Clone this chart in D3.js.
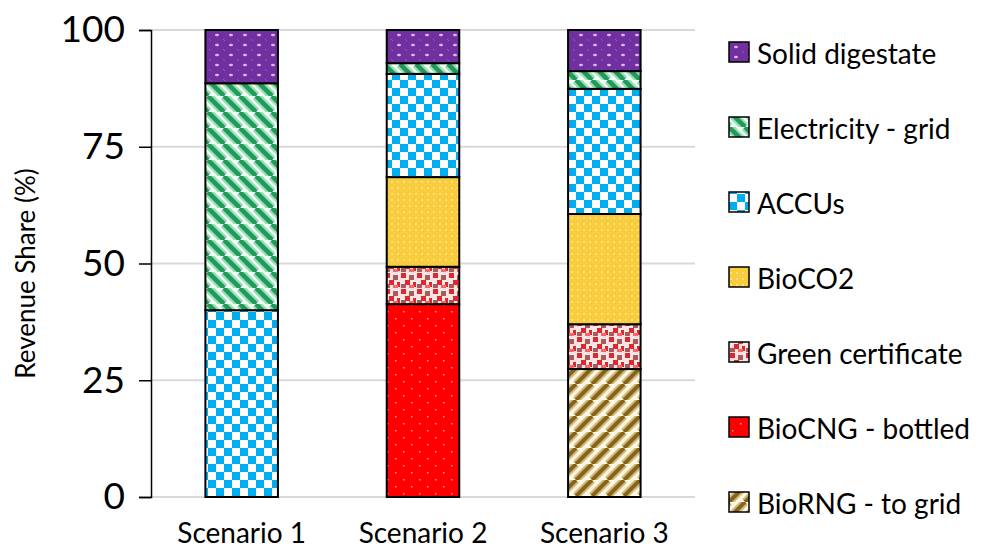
<!DOCTYPE html>
<html>
<head>
<meta charset="utf-8">
<script src="https://cdn.jsdelivr.net/npm/d3@7"></script>
<style>
  html, body { margin: 0; padding: 0; background: #fff; }
  svg { display: block; font-family: Lato, "Open Sans", sans-serif; }
</style>
</head>
<body>
<svg id="chart" width="982" height="551"></svg>
<script>
// Scenarios along the x axis
const scenarios = ["Scenario 1", "Scenario 2", "Scenario 3"];

// Revenue streams, stacked bottom to top (values in % of revenue per scenario)
const bioRNG      = [0, 0, 27.4];
const bioCNG      = [0, 41.3, 0];
const greenCert   = [0, 8.0, 9.6];
const bioCO2      = [0, 19.2, 23.6];
const accus       = [40.0, 22.1, 26.8];
const electricity = [48.6, 2.3, 3.8];
const digestate   = [11.4, 7.1, 8.8];

const seriesNames = ["BioRNG - to grid", "BioCNG - bottled", "Green certificate",
                     "BioCO2", "ACCUs", "Electricity - grid", "Solid digestate"];
const seriesValues = [bioRNG, bioCNG, greenCert, bioCO2, accus, electricity, digestate];

const yTicks = [0, 25, 50, 75, 100];

const svg = d3.select("#chart");
const defs = svg.append("defs");

// ---- fill patterns -------------------------------------------------------
function pat(id, w, h) {
  return defs.append("pattern").attr("id", id).attr("patternUnits", "userSpaceOnUse")
    .attr("width", w).attr("height", h);
}
// Solid digestate: purple with light dots
{
  const p = pat("p-dig", 14, 10);
  p.append("rect").attr("width", 14).attr("height", 10).attr("fill", "#7030A0");
  p.append("ellipse").attr("cx", 7).attr("cy", 5).attr("rx", 2).attr("ry", 1.3).attr("fill", "#dcb6f0");
  p.append("ellipse").attr("cx", 0).attr("cy", 0).attr("rx", 1.2).attr("ry", 1).attr("fill", "#9a62c4");
  p.append("ellipse").attr("cx", 14).attr("cy", 10).attr("rx", 1.2).attr("ry", 1).attr("fill", "#9a62c4");
}
// Electricity: green downward diagonal stripes
{
  const p = pat("p-ele", 16, 16);
  p.append("rect").attr("width", 16).attr("height", 16).attr("fill", "#effff5");
  [-16, 0, 16].forEach(dx => {
    p.append("line").attr("x1", dx).attr("y1", 0).attr("x2", dx + 16).attr("y2", 16)
      .attr("stroke", "#9bdcb6").attr("stroke-width", 9);
    p.append("line").attr("x1", dx).attr("y1", 0).attr("x2", dx + 16).attr("y2", 16)
      .attr("stroke", "#1f9a58").attr("stroke-width", 4.5);
  });
}
// ACCUs: blue checkerboard
{
  const p = pat("p-acc", 16, 16);
  p.append("rect").attr("width", 16).attr("height", 16).attr("fill", "#ffffff");
  p.append("rect").attr("width", 8).attr("height", 8).attr("fill", "#00AEEF");
  p.append("rect").attr("x", 8).attr("y", 8).attr("width", 8).attr("height", 8).attr("fill", "#00AEEF");
}
// BioCO2: yellow fine grid texture
{
  const p = pat("p-co2", 6, 6);
  p.append("rect").attr("width", 6).attr("height", 6).attr("fill", "#F8CC3C");
  p.append("rect").attr("x", 1).attr("y", 1).attr("width", 2).attr("height", 2).attr("fill", "#FCE07A");
  p.append("rect").attr("x", 4).attr("y", 4).attr("width", 1).attr("height", 1).attr("fill", "#FBD85C");
}
// Green certificate: red confetti on pink
{
  const p = pat("p-grn", 16, 16);
  p.append("rect").attr("width", 16).attr("height", 16).attr("fill", "#fde4e4");
  [[1, 1, "#e3262b"], [9, 3, "#a65a5a"], [5, 8, "#e3262b"], [13, 10, "#e3262b"], [1, 12, "#a65a5a"], [9, 13, "#f06a6a"]]
    .forEach(([x, y, c]) => p.append("rect").attr("x", x).attr("y", y).attr("width", 5).attr("height", 5).attr("fill", c));
}
// BioCNG: red with sparse light dots
{
  const p = pat("p-cng", 16, 14);
  p.append("rect").attr("width", 16).attr("height", 14).attr("fill", "#FF0000");
  p.append("rect").attr("x", 3).attr("y", 3).attr("width", 1.5).attr("height", 1.5).attr("fill", "#ff9a9a");
  p.append("rect").attr("x", 11).attr("y", 10).attr("width", 1.5).attr("height", 1.5).attr("fill", "#ff9a9a");
}
// BioRNG: olive upward diagonal stripes on cream
{
  const p = pat("p-rng", 16, 16);
  p.append("rect").attr("width", 16).attr("height", 16).attr("fill", "#fff9e3");
  [-16, 0, 16].forEach(dx => {
    p.append("line").attr("x1", dx).attr("y1", 16).attr("x2", dx + 16).attr("y2", 0)
      .attr("stroke", "#d2bb80").attr("stroke-width", 8);
    p.append("line").attr("x1", dx).attr("y1", 16).attr("x2", dx + 16).attr("y2", 0)
      .attr("stroke", "#866419").attr("stroke-width", 4);
  });
}
const fills = ["url(#p-rng)", "url(#p-cng)", "url(#p-grn)", "url(#p-co2)",
               "url(#p-acc)", "url(#p-ele)", "url(#p-dig)"];

// ---- scales ----------------------------------------------------------------
const plotLeft = 151, plotRight = 695, plotTop = 30, plotBottom = 497;
const x = d3.scaleBand().domain(scenarios).range([plotLeft, plotRight])
  .paddingInner(0.6).paddingOuter(0.3);
const y = d3.scaleLinear().domain([0, 100]).range([plotBottom, plotTop]);

// gridlines
svg.append("g").selectAll("line").data(yTicks).join("line")
  .attr("x1", plotLeft).attr("x2", plotRight)
  .attr("y1", d => y(d)).attr("y2", d => y(d))
  .attr("stroke", "#d9d9d9").attr("stroke-width", 2);

// ---- stacked bars ----------------------------------------------------------
const table = scenarios.map((s, i) => {
  const row = { scenario: s };
  seriesNames.forEach((n, k) => row[n] = seriesValues[k][i]);
  return row;
});
const stacked = d3.stack().keys(seriesNames)(table);

svg.append("g").selectAll("g").data(stacked).join("g")
  .attr("fill", (d, i) => fills[i])
  .selectAll("rect").data(d => d.filter(v => v[1] - v[0] > 0)).join("rect")
  .attr("x", d => x(d.data.scenario))
  .attr("width", x.bandwidth())
  .attr("y", d => y(d[1]))
  .attr("height", d => y(d[0]) - y(d[1]))
  .attr("stroke", "#000").attr("stroke-width", 2);

// ---- axes ------------------------------------------------------------------
const yAxis = svg.append("g").attr("transform", `translate(${plotLeft},0)`)
  .call(d3.axisLeft(y).tickValues(yTicks).tickSize(12).tickPadding(14));
yAxis.select(".domain").attr("stroke", "#000").attr("stroke-width", 1.5);
yAxis.selectAll(".tick line").attr("stroke", "#000").attr("stroke-width", 1.5);
yAxis.selectAll("text").attr("font-size", 37).attr("fill", "#000")
  .attr("font-family", "Lato, sans-serif");

const xAxis = svg.append("g").attr("transform", `translate(0,${plotBottom})`)
  .call(d3.axisBottom(x).tickSize(0).tickPadding(26));
xAxis.select(".domain").remove();
xAxis.selectAll("text").attr("font-size", 28).attr("fill", "#000")
  .attr("font-family", "Lato, sans-serif");

svg.append("text")
  .attr("transform", `translate(25,${(plotTop + plotBottom) / 2 + 10}) rotate(-90)`)
  .attr("text-anchor", "middle").attr("dominant-baseline", "central")
  .attr("font-size", 26).attr("fill", "#000")
  .text("Revenue Share (%)");

// ---- legend (top to bottom: reverse of stack order) -------------------------
const legendOrder = d3.range(seriesNames.length).reverse();
const lg = svg.append("g").selectAll("g").data(legendOrder).join("g")
  .attr("transform", (d, i) => `translate(729,${52 + i * 75})`);
lg.append("rect").attr("x", 0).attr("y", -10).attr("width", 20).attr("height", 20)
  .attr("fill", d => fills[d]).attr("stroke", "#000").attr("stroke-width", 1.5);
lg.append("text").attr("x", 28).attr("y", 1).attr("dominant-baseline", "central")
  .attr("font-size", 28).attr("fill", "#000")
  .text(d => seriesNames[d]);
</script>
</body>
</html>
